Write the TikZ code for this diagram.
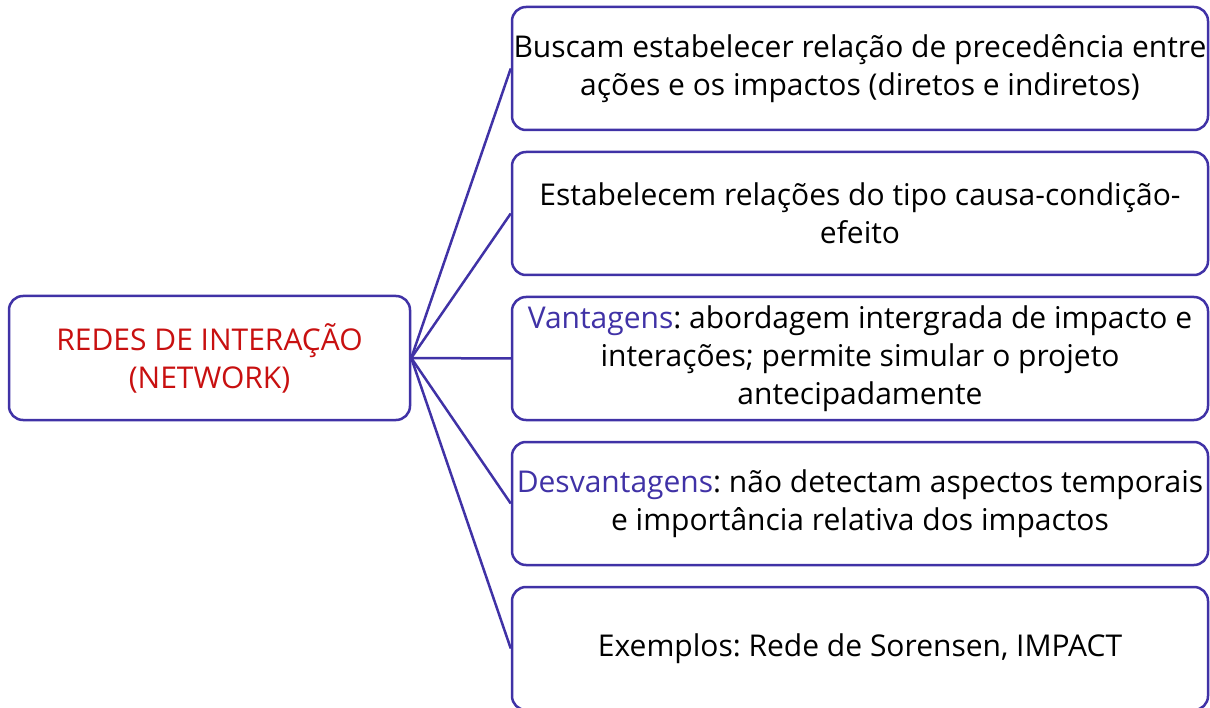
\documentclass[tikz,border=0pt]{standalone}
\usepackage{fontspec}
\setmainfont{Open Sans}
\usetikzlibrary{positioning}
\definecolor{netblue}{RGB}{64,50,166}
\definecolor{netred}{RGB}{200,16,16}
\frenchspacing

\begin{document}
\begin{tikzpicture}[x=1pt, y=1pt,
  every node/.style={font=\fontsize{30}{38}\selectfont, align=center},
  box/.style={draw=netblue, line width=2.5pt, rounded corners=14pt, inner sep=0pt},
  rootbox/.style={box, minimum width=401pt, minimum height=124pt, text=netred},
  infobox/.style={box, minimum width=696pt, minimum height=123pt},
  link/.style={draw=netblue, line width=2.5pt}]

\useasboundingbox (0,0) rectangle (1210,-708);

\node[rootbox] (redes) at (209.5,-358) {REDES DE INTERAÇÃO\\(NETWORK)};

\node[infobox] (busca) at (860,-68.5) {Buscam estabelecer relação de precedência entre\\ações e os impactos (diretos e indiretos)};
\node[infobox, below=19.5pt of busca] (causa) {Estabelecem relações do tipo causa-condição-\\efeito};
\node[infobox, below=19.5pt of causa] (vant) {\textcolor{netblue}{Vantagens}: abordagem intergrada de impacto e\\interações; permite simular o projeto\\antecipadamente};
\node[infobox, below=19.5pt of vant] (desv) {\textcolor{netblue}{Desvantagens}: não detectam aspectos temporais\\e importância relativa dos impactos};
\node[infobox, below=19.5pt of desv] (exem) {Exemplos: Rede de Sorensen, IMPACT};

% ligações
\foreach \n in {busca,causa,vant,desv,exem}
  \draw[link] (redes.east) -- (\n.west);

\end{tikzpicture}
\end{document}
